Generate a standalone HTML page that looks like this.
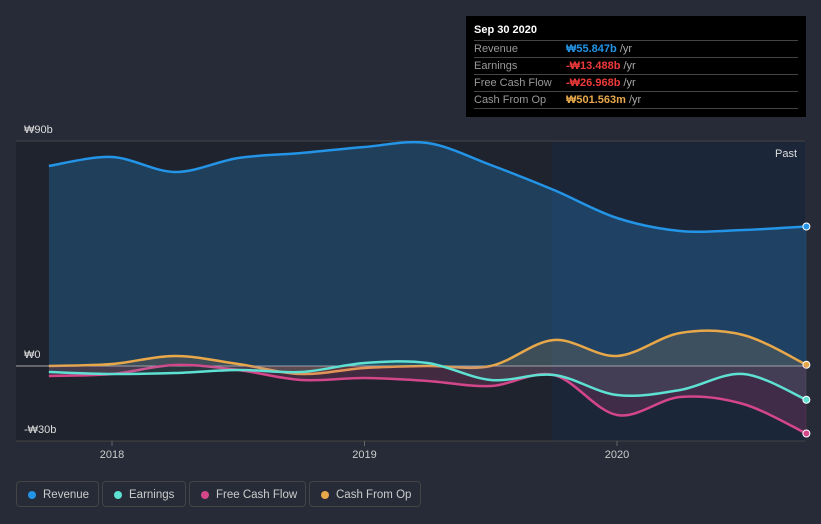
<!DOCTYPE html>
<html><head><meta charset="utf-8"><style>
body{margin:0;width:821px;height:524px;background:#262b37;font-family:"Liberation Sans","Noto Sans CJK KR",sans-serif;overflow:hidden;position:relative}
.tt{position:absolute;left:466px;top:16px;width:340px;height:101px;background:#000;color:#fff;font-size:11px}
.tt .h{position:absolute;left:8px;top:8px;font-weight:bold;font-size:11px}
.row{position:absolute;left:8px;width:324px;height:16px;border-top:1px solid #444;line-height:16px;color:#999}
.row span{position:absolute;left:92px;font-weight:bold}
.row i{font-style:normal;color:#aaa;font-weight:normal}
.leg{position:absolute;top:481px;height:26px;border:1px solid #444;border-radius:4px;color:#ccc;font-size:11.5px;line-height:26px;padding:0 0 0 26px;box-sizing:border-box}
.leg b{position:absolute;left:11px;top:9px;width:8px;height:8px;border-radius:50%}
</style></head><body>
<svg id="c" width="821" height="524" style="position:absolute;left:0;top:0"></svg>
<div class="tt">
<div class="h">Sep 30 2020</div>
<div class="row" style="top:24px">Revenue<span style="color:#2394e6">₩55.847b <i>/yr</i></span></div>
<div class="row" style="top:41px">Earnings<span style="color:#ef3a3a">-₩13.488b <i>/yr</i></span></div>
<div class="row" style="top:58px">Free Cash Flow<span style="color:#ef3a3a">-₩26.968b <i>/yr</i></span></div>
<div class="row" style="top:75px;border-bottom:1px solid #444">Cash From Op<span style="color:#e8a84a">₩501.563m <i>/yr</i></span></div>
</div>
<div class="leg" style="left:16px;width:83px"><b style="background:#2394e6"></b>Revenue</div>
<div class="leg" style="left:102px;width:84px"><b style="background:#5ee0d2"></b>Earnings</div>
<div class="leg" style="left:189px;width:117px"><b style="background:#d4468a"></b>Free Cash Flow</div>
<div class="leg" style="left:309px;width:112px"><b style="background:#e8a84a"></b>Cash From Op</div>
<script>
const dates=[2017.75,2018,2018.25,2018.5,2018.75,2019,2019.25,2019.5,2019.75,2020,2020.25,2020.5,2020.75];
const revenue=[80,83.6,77.6,83.2,85.2,87.6,89.2,80.4,70.4,59.2,54,54.4,55.8];
const cashFromOp=[0,0.8,4,0.8,-3.2,-0.8,0,0,10.4,4,13.2,12.4,0.5];
const earnings=[-2.4,-3.2,-2.8,-1.6,-2.4,1.2,1.2,-5.6,-3.6,-11.6,-9.6,-3.2,-13.5];
const fcf=[-4,-3.2,0.4,-1.6,-5.6,-4.8,-6,-8,-3.6,-19.6,-12.4,-15.2,-27];
const yTicks=[90,0,-30];
const yLabels=["₩90b","₩0","-₩30b"];
const xTicks=[2018,2019,2020];
const X=d=>112+(d-2018)*252.5, Y=v=>366-v*2.5;
const svg=document.getElementById('c'),NS="http://www.w3.org/2000/svg";
function mk(t,a,name){const e=document.createElementNS(NS,t);for(const k in a)e.setAttribute(k,a[k]);


svg.appendChild(e);return e;}
mk('rect',{x:16,y:141,width:536,height:300,fill:'#1f232d'},'past-background');
mk('rect',{x:552,y:141,width:253,height:300,fill:'#1c2639'},'recent-background');
yTicks.forEach((v,i)=>{mk('line',{x1:16,x2:805,y1:Y(v),y2:Y(v),stroke:v==0?'#aaa':'#444','stroke-width':1},'gridline');
const t=mk('text',{x:24,y:Y(v)-8,fill:'#ddd','font-size':11},'y-tick-label');t.textContent=yLabels[i];});
xTicks.forEach(d=>{mk('line',{x1:X(d),x2:X(d),y1:441,y2:446,stroke:'#666'},'x-tick');
const t=mk('text',{x:X(d),y:458,fill:'#ccc','font-size':11,'text-anchor':'middle'},'x-tick-label');t.textContent=d;});
const pt=mk('text',{x:797,y:157,fill:'#ddd','font-size':11,'text-anchor':'end'},'past-label');pt.textContent='Past';
function path(vals){const p=vals.map((v,i)=>[X(dates[i]),Y(v)]);let d=`M${p[0][0]},${p[0][1]}`;
for(let i=0;i<p.length-1;i++){const p0=p[i-1]||p[i],p1=p[i],p2=p[i+1],p3=p[i+2]||p2;
d+=` C${p1[0]+(p2[0]-p0[0])/6},${p1[1]+(p2[1]-p0[1])/6} ${p2[0]-(p3[0]-p1[0])/6},${p2[1]-(p3[1]-p1[1])/6} ${p2[0]},${p2[1]}`;}return d;}
function series(vals,col,fa,name){const d=path(vals);
mk('path',{d:d+` L${X(dates[dates.length-1])},${Y(0)} L${X(dates[0])},${Y(0)} Z`,fill:col,'fill-opacity':fa},name+'-area');
mk('path',{d:d,fill:'none',stroke:col,'stroke-width':2.5},name+'-line');
mk('circle',{cx:X(dates[dates.length-1]),cy:Y(vals[vals.length-1]),r:3.5,fill:col,stroke:'#fff','stroke-width':1},name+'-end-point');}
series(revenue,'#2394e6',0.25,'revenue');
series(cashFromOp,'#e8a84a',0.15,'cash-from-op');
series(fcf,'#d4468a',0.2,'free-cash-flow');
series(earnings,'#5ee0d2',0.1,'earnings');
</script>
</body></html>
